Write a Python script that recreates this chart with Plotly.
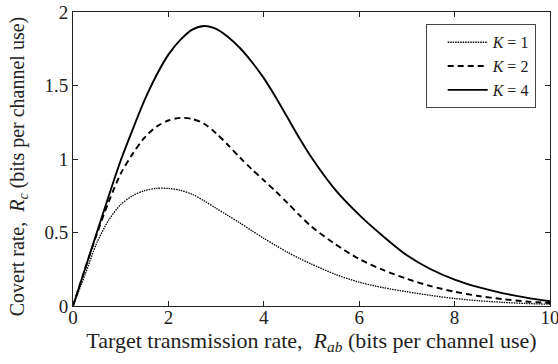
import plotly.graph_objects as go

# Target transmission rate R_ab (bits per channel use)
x_vals = [0, 0.25, 0.5, 0.75, 1.0, 1.25, 1.5, 1.75, 2.0, 2.25, 2.5, 2.75, 3.0, 3.25, 3.5, 3.75, 4.0,
          4.25, 4.5, 4.75, 5.0, 5.5, 6.0, 6.5, 7.0, 7.5, 8.0, 8.5, 9.0, 9.5, 10.0]

# Covert rate R_c for each K
k1_vals = [0, 0.21, 0.43, 0.585, 0.69, 0.75, 0.785, 0.80, 0.80, 0.787, 0.76, 0.715, 0.665, 0.615, 0.565, 0.512, 0.46,
           0.412, 0.365, 0.323, 0.285, 0.215, 0.162, 0.125, 0.097, 0.072, 0.051, 0.036, 0.025, 0.017, 0.012]
k2_vals = [0, 0.25, 0.49, 0.71, 0.90, 1.035, 1.145, 1.22, 1.262, 1.28, 1.272, 1.24, 1.175, 1.095, 1.01, 0.93, 0.855,
           0.78, 0.70, 0.617, 0.54, 0.42, 0.32, 0.245, 0.185, 0.135, 0.097, 0.068, 0.047, 0.031, 0.02]
k4_vals = [0, 0.25, 0.50, 0.75, 0.99, 1.20, 1.40, 1.57, 1.71, 1.81, 1.88, 1.905, 1.885, 1.83, 1.755, 1.66, 1.55,
           1.42, 1.28, 1.14, 1.01, 0.79, 0.62, 0.475, 0.345, 0.25, 0.18, 0.128, 0.088, 0.057, 0.032]

series_names = ["<i>K</i> = 1", "<i>K</i> = 2", "<i>K</i> = 4"]
x_ticks = [0, 2, 4, 6, 8, 10]
y_ticks = [0, 0.5, 1, 1.5, 2]
y_tick_text = ["0", "0.5", "1", "1.5", "2"]

FONT = "Liberation Serif, Times New Roman, serif"
FS = 19

fig = go.Figure()
fig.add_trace(go.Scatter(x=x_vals, y=k1_vals, mode="lines", name=series_names[0],
                         line=dict(color="black", width=1.3, dash="1.5px,1px", shape="spline", smoothing=0.8)))
fig.add_trace(go.Scatter(x=x_vals, y=k2_vals, mode="lines", name=series_names[1],
                         line=dict(color="black", width=1.9, dash="6px,4px", shape="spline", smoothing=0.8)))
fig.add_trace(go.Scatter(x=x_vals, y=k4_vals, mode="lines", name=series_names[2],
                         line=dict(color="black", width=1.9, shape="spline", smoothing=0.8)))

axis_common = dict(showline=True, linecolor="#222", linewidth=1, mirror="ticks",
                   ticks="inside", ticklen=5, tickcolor="#222", tickwidth=1,
                   showgrid=False, zeroline=False, automargin=False,
                   ticklabeloverflow="allow",
                   tickfont=dict(family=FONT, size=FS, color="#222"))

fig.update_xaxes(range=[0, 10], tickvals=x_ticks, ticktext=[str(t) for t in x_ticks],
                 ticklabelstandoff=-6,
                 title=dict(text="Target transmission rate,  <i>R</i><sub><i>ab</i></sub> (bits per channel use)",
                            font=dict(family=FONT, size=22, color="#222"), standoff=0),
                 **axis_common)
fig.update_yaxes(range=[0, 2], tickvals=y_ticks, ticktext=y_tick_text,
                 title=dict(text="Covert rate,  <i>R</i><sub><i>c</i></sub> (bits per channel use)&nbsp;&nbsp;&nbsp;",
                            font=dict(family=FONT, size=20, color="#222"), standoff=14),
                 **axis_common)

fig.update_layout(
    width=558, height=364,
    margin=dict(l=73, r=8, t=12, b=58),
    plot_bgcolor="white", paper_bgcolor="white",
    font=dict(family=FONT, size=FS, color="#222"),
    showlegend=True,
    legend=dict(x=0.97, y=0.958, xanchor="right", yanchor="top",
                bordercolor="#444", borderwidth=1, bgcolor="white",
                font=dict(family=FONT, size=16, color="#222"),
                tracegroupgap=0, itemwidth=40, indentation=16),
)

fig.write_html("out.html")
